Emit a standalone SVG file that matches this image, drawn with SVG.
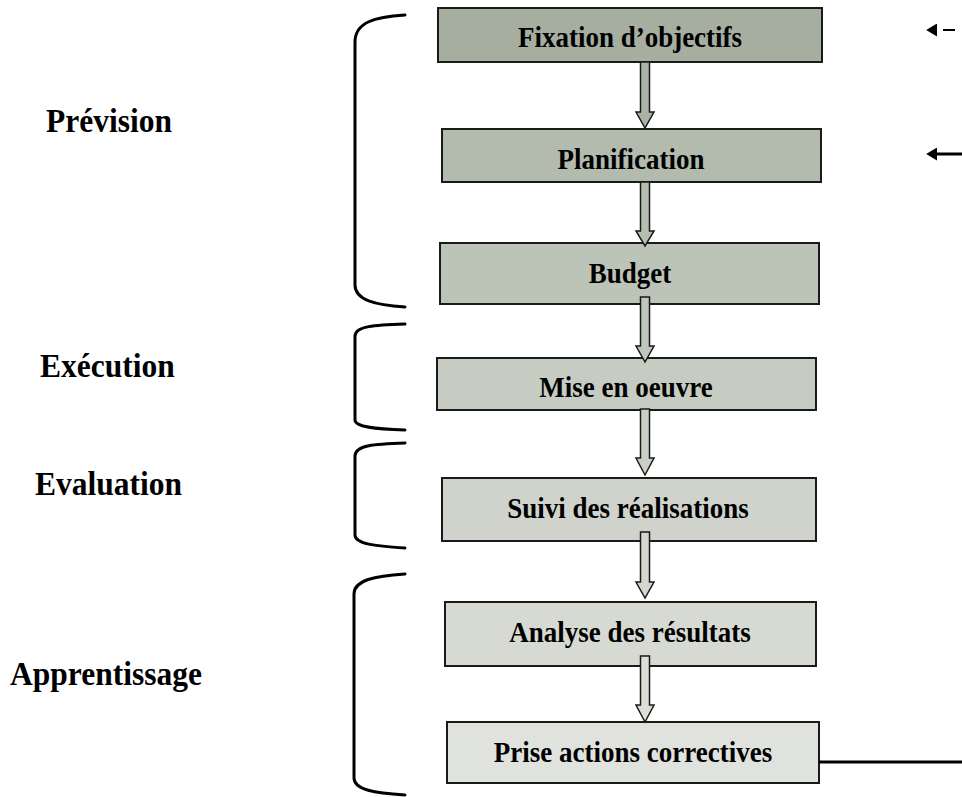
<svg xmlns="http://www.w3.org/2000/svg" width="962" height="797" viewBox="0 0 962 797">
  <style>
    .box { stroke: #1a1a1a; stroke-width: 2; }
    .label { font-family: "Liberation Serif", "Times New Roman", serif; font-weight: bold; fill: #000; }
    .node-text { font-size: 27px; text-anchor: middle; }
    .phase-text { font-size: 31.5px; }
    .flow { stroke: #1a1a1a; stroke-width: 1.5; stroke-linejoin: miter; }
    .brace { fill: none; stroke: #000; stroke-width: 3; stroke-linecap: round; }
    .loop { fill: none; stroke: #000; }
  </style>
  <defs>
    <marker id="head" viewBox="0 0 10 12" refX="0" refY="6" markerWidth="11" markerHeight="13" markerUnits="userSpaceOnUse" orient="auto">
      <path d="M0,0 L10,6 L0,12 Z" fill="#000"/>
    </marker>
  </defs>

  <rect width="962" height="797" fill="#fff"/>

  <!-- phase braces -->
  <g id="braces">
    <path class="brace" d="M405,15 C375,17 355,22 355,42 V285 C355,300 375,305 405,307"/>
    <path class="brace" d="M405,324 C375,325 355,326 355,336 V420 C355,427 375,429 405,430"/>
    <path class="brace" d="M405,443 C375,444 355,445 355,456 V535 C355,544 375,546 405,548"/>
    <path class="brace" d="M405,574 C375,576 354,580 354,594 V778 C354,790 375,793 405,795"/>
  </g>

  <!-- phase labels (slightly tall lettering: vertical scale 1.1 from the baseline) -->
  <g id="phase-labels">
    <text class="label phase-text" transform="matrix(1,0,0,1.1,46,132)">Prévision</text>
    <text class="label phase-text" transform="matrix(1,0,0,1.1,40,377)">Exécution</text>
    <text class="label phase-text" transform="matrix(1,0,0,1.1,35,495)">Evaluation</text>
    <text class="label phase-text" transform="matrix(1,0,0,1.1,10,685)">Apprentissage</text>
  </g>

  <!-- process steps -->
  <g id="n-fixation">
    <rect class="box" x="438" y="8" width="384" height="54" fill="#a5ae9f"/>
    <text class="label node-text" transform="matrix(1,0,0,1.08,630,47)">Fixation d’objectifs</text>
  </g>
  <g id="n-planification">
    <rect class="box" x="442" y="129" width="379" height="53" fill="#b3bbaf"/>
    <text class="label node-text" transform="matrix(1,0,0,1.08,631,169)">Planification</text>
  </g>
  <g id="n-budget">
    <rect class="box" x="440" y="243" width="379" height="61" fill="#bcc4b8"/>
    <text class="label node-text" transform="matrix(1,0,0,1.08,630,283)">Budget</text>
  </g>
  <g id="n-mise">
    <rect class="box" x="437" y="358" width="379" height="52" fill="#c7ccc3"/>
    <text class="label node-text" transform="matrix(1,0,0,1.08,626,397)">Mise en oeuvre</text>
  </g>
  <g id="n-suivi">
    <rect class="box" x="442" y="478" width="374" height="63" fill="#cfd3cc"/>
    <text class="label node-text" transform="matrix(1,0,0,1.08,628,518)">Suivi des réalisations</text>
  </g>
  <g id="n-analyse">
    <rect class="box" x="445" y="602" width="371" height="64" fill="#d7dad3"/>
    <text class="label node-text" transform="matrix(1,0,0,1.08,630,642)">Analyse des résultats</text>
  </g>
  <g id="n-prise">
    <rect class="box" x="447" y="722" width="372" height="61" fill="#e0e2dd"/>
    <text class="label node-text" transform="matrix(1,0,0,1.08,633,762)">Prise actions correctives</text>
  </g>

  <!-- connectors -->
  <g id="connectors">
    <path class="flow" fill="#aab3a5" d="M640.5,62 H649.5 V112 H654 L645,128 L636,112 H640.5 Z"/>
    <path class="flow" fill="#b6beb2" d="M640.5,182 H649.5 V231 H654 L645,246 L636,231 H640.5 Z"/>
    <path class="flow" fill="#c0c7bc" d="M640.5,297 H649.5 V346 H654 L645,362 L636,346 H640.5 Z"/>
    <path class="flow" fill="#cad0c6" d="M640.5,409 H649.5 V458 H654 L645,475 L636,458 H640.5 Z"/>
    <path class="flow" fill="#d3d7d0" d="M640.5,532 H649.5 V582 H654 L645,598 L636,582 H640.5 Z"/>
    <path class="flow" fill="#dcdfd8" d="M640.5,656 H649.5 V705 H654 L645,722 L636,705 H640.5 Z"/>

    <!-- feedback lines -->
    <line class="loop" x1="955" y1="30" x2="937" y2="30" stroke-width="2" stroke-dasharray="12 20" marker-end="url(#head)"/>
    <line class="loop" x1="962" y1="154" x2="937" y2="154" stroke-width="3" marker-end="url(#head)"/>
    <line class="loop" x1="819" y1="762" x2="962" y2="762" stroke-width="3"/>
  </g>
</svg>
